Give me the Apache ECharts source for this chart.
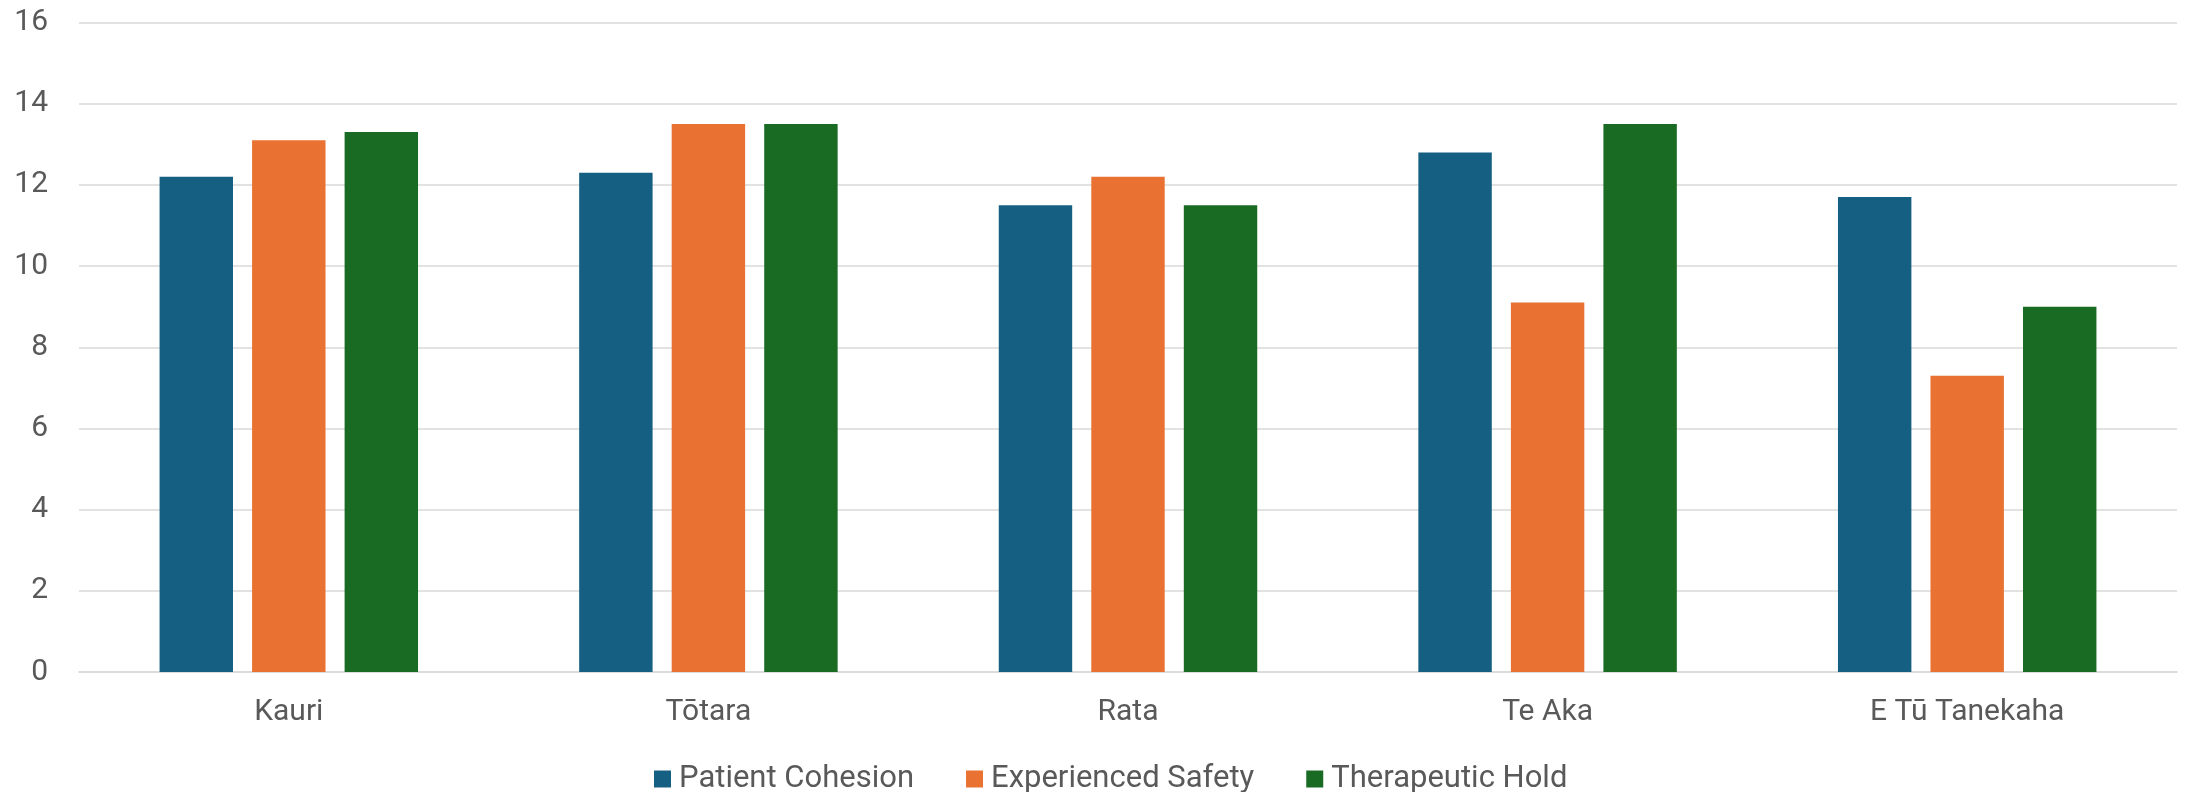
<!DOCTYPE html>
<html>
<head>
<meta charset="utf-8">
<script src="https://cdn.jsdelivr.net/npm/echarts@6/dist/echarts.min.js"></script>
<style>
html,body{margin:0;padding:0;background:#fff;}
#chart{width:2188px;height:792px;}
</style>
</head>
<body>
<div id="chart"></div>
<script>
const categories = ['Kauri', 'Tōtara', 'Rata', 'Te Aka', 'E Tū Tanekaha'];
const patientCohesion = [12.2, 12.3, 11.5, 12.8, 11.7];
const experiencedSafety = [13.1, 13.5, 12.2, 9.1, 7.3];
const therapeuticHold = [13.3, 13.5, 11.5, 13.5, 9.0];
const yTicks = { min: 0, max: 16, interval: 2 };

const textColor = '#595959';
const fontFamily = 'Roboto, "Open Sans", sans-serif';
const chart = echarts.init(document.getElementById('chart'));
chart.setOption({
  animation: false,
  backgroundColor: '#ffffff',
  textStyle: { fontFamily: fontFamily },
  grid: { left: 79, right: 11, top: 22.5, bottom: 120, containLabel: false },
  legend: {
    left: 649,
    top: 755,
    itemWidth: 17,
    itemHeight: 17,
    itemGap: 52,
    icon: 'rect',
    textStyle: { color: textColor, fontSize: 31, fontFamily: fontFamily, lineHeight: 38, padding: [0, 0, 0, 3] },
    data: ['Patient Cohesion', 'Experienced Safety', 'Therapeutic Hold']
  },
  xAxis: {
    type: 'category',
    data: categories,
    axisTick: { show: false },
    axisLine: { show: true, lineStyle: { color: '#D9D9D9', width: 1.5 } },
    axisLabel: { color: textColor, fontSize: 30, margin: 25, fontFamily: fontFamily }
  },
  yAxis: {
    type: 'value',
    min: yTicks.min,
    max: yTicks.max,
    interval: yTicks.interval,
    axisLine: { show: false },
    axisTick: { show: false },
    splitLine: { lineStyle: { color: '#D9D9D9', width: 1.5 } },
    axisLabel: { color: textColor, fontSize: 30, margin: 31, fontFamily: fontFamily }
  },
  series: [
    { name: 'Patient Cohesion', type: 'bar', data: patientCohesion, itemStyle: { color: '#156082' }, barGap: '26%', barCategoryGap: '38.4%' },
    { name: 'Experienced Safety', type: 'bar', data: experiencedSafety, itemStyle: { color: '#E97132' }, barGap: '26%', barCategoryGap: '38.4%' },
    { name: 'Therapeutic Hold', type: 'bar', data: therapeuticHold, itemStyle: { color: '#196B24' }, barGap: '26%', barCategoryGap: '38.4%' }
  ]
});
</script>
</body>
</html>
